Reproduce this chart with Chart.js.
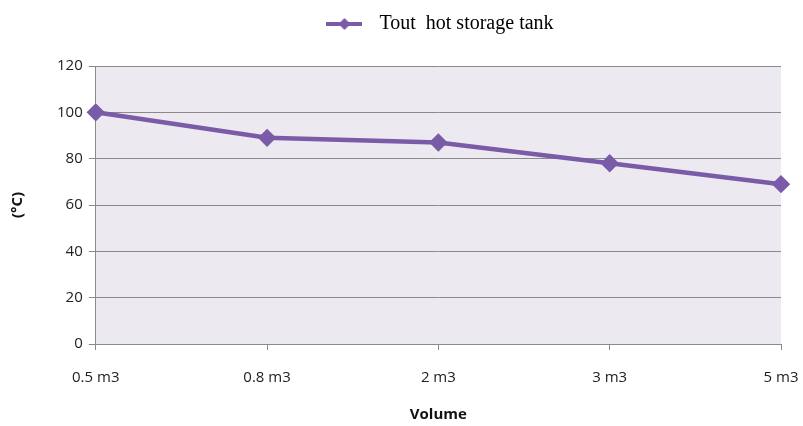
<!DOCTYPE html>
<html>
<head>
<meta charset="utf-8">
<script src="https://cdn.jsdelivr.net/npm/chart.js@4/dist/chart.umd.min.js"></script>
<style>
  html, body { margin: 0; padding: 0; background: #fff; }
  #wrap { width: 803px; height: 426px; }
</style>
</head>
<body>
<div id="wrap"><canvas id="mainChart"></canvas></div>
<script>
const volumes = ['0.5 m3', '0.8 m3', '2 m3', '3 m3', '5 m3'];
const toutTemps = [100, 89, 87, 78, 69];
const yTicks = [0, 20, 40, 60, 80, 100, 120];

const lineColor = '#7a5ba8';

// legend marker: a short line with a diamond on it
function legendMarker() {
    const c = document.createElement('canvas');
    c.width = 36; c.height = 14;
    const g = c.getContext('2d');
    g.strokeStyle = lineColor;
    g.lineWidth = 4;
    g.beginPath(); g.moveTo(0, 7); g.lineTo(36, 7); g.stroke();
    g.fillStyle = lineColor;
    g.beginPath(); g.moveTo(18, 1); g.lineTo(24, 7); g.lineTo(18, 13); g.lineTo(12, 7); g.closePath(); g.fill();
    return c;
}

const plotBg = {
    id: 'plotBg',
    beforeDraw(ch) {
        const a = ch.chartArea, ctx = ch.ctx;
        ctx.save();
        ctx.fillStyle = '#ece9f0';
        ctx.fillRect(a.left, a.top, a.right - a.left, a.bottom - a.top);
        ctx.restore();
    }
};

// extra room under the legend, and legend pushed a bit right like the original
const legendGap = {
    id: 'legendGap',
    beforeInit(ch) {
        const lg = ch.legend;
        const fit = lg.fit;
        lg.fit = function () { fit.bind(lg)(); this.height += 22; };
        const draw = lg.draw;
        lg.draw = function () {
            const ctx = ch.ctx;
            ctx.save();
            ctx.translate(31, 0);
            draw.bind(lg)();
            ctx.restore();
        };
    }
};

const marker = legendMarker();

new Chart(document.getElementById('mainChart').getContext('2d'), {
    type: 'line',
    data: {
        labels: volumes,
        datasets: [{
            label: 'Tout  hot storage tank',
            data: toutTemps,
            borderColor: lineColor,
            backgroundColor: lineColor,
            borderWidth: 4.5,
            pointStyle: 'rectRot',
            pointRadius: 6,
            pointHoverRadius: 6,
            tension: 0
        }]
    },
    options: {
        responsive: true,
        maintainAspectRatio: false,
        animation: false,
        layout: { padding: { top: 2, right: 1, left: 9, bottom: 2 } },
        plugins: {
            legend: {
                display: true,
                position: 'top',
                labels: {
                    usePointStyle: true,
                    pointStyleWidth: 50,
                    font: { family: '"Liberation Serif", serif', size: 20 },
                    color: '#222',
                    padding: 12,
                    generateLabels(ch) {
                        return ch.data.datasets.map((ds, i) => ({
                            text: ds.label,
                            pointStyle: marker,
                            fillStyle: lineColor,
                            strokeStyle: lineColor,
                            lineWidth: 0,
                            datasetIndex: i
                        }));
                    }
                }
            },
            tooltip: { enabled: false }
        },
        scales: {
            x: {
                offset: false,
                afterFit(axis) { axis.paddingRight = 22; axis.paddingLeft = 0; },
                grid: { display: true, drawOnChartArea: false, drawTicks: true, tickLength: 6, color: '#8a8a8a' },
                border: { color: '#8a8a8a' },
                ticks: { color: '#222', font: { family: '"Open Sans", sans-serif', size: 15 }, padding: 19, maxRotation: 0 },
                title: { display: true, text: 'Volume', color: '#111', font: { family: '"Open Sans", sans-serif', size: 15, weight: 'bold' }, padding: { top: 0, bottom: 0 } }
            },
            y: {
                min: 0, max: 120,
                afterBuildTicks(axis) { axis.ticks = yTicks.map(v => ({ value: v })); },
                grid: { color: '#8a8a8a', tickLength: 7, drawTicks: true },
                border: { color: '#8a8a8a' },
                ticks: { color: '#222', font: { family: '"Open Sans", sans-serif', size: 15 }, padding: 6 },
                title: { display: true, text: '(°C)', color: '#111', font: { family: '"Open Sans", sans-serif', size: 15, weight: 'bold' }, padding: { top: 0, bottom: 24 } }
            }
        }
    },
    plugins: [plotBg, legendGap]
});
</script>
</body>
</html>
